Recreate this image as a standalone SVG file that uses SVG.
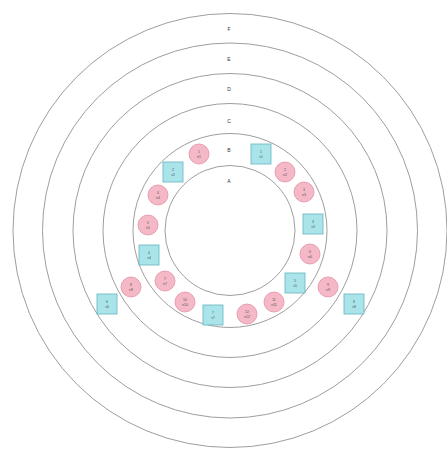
<svg xmlns="http://www.w3.org/2000/svg" width="447" height="449" viewBox="0 0 447 449">
<style>
.ring{fill:none;stroke:#9e9e9e;stroke-width:1}
.lab{font-family:"Liberation Sans",Arial,sans-serif;font-size:5px;fill:#333;text-anchor:middle}
.pc{fill:#f5b8c6;stroke:#e291a4;stroke-width:0.8}
.sq{fill:#a8e4ea;stroke:#66b3bd;stroke-width:0.8}
.nt{font-family:"Liberation Sans",Arial,sans-serif;font-size:3.5px;fill:#555;text-anchor:middle}
</style>
<rect width="447" height="449" fill="#fff"/>
<g id="rings">
<circle class="ring" cx="230" cy="230.5" r="217"/>
<circle class="ring" cx="230" cy="230.5" r="187.5"/>
<circle class="ring" cx="230" cy="230.5" r="157"/>
<circle class="ring" cx="230" cy="230.5" r="127"/>
<circle class="ring" cx="230" cy="230.5" r="97"/>
<circle class="ring" cx="230" cy="230.5" r="65"/>
</g>
<g id="ring-labels">
<text class="lab" x="229" y="31">F</text>
<text class="lab" x="229" y="61">E</text>
<text class="lab" x="229" y="91">D</text>
<text class="lab" x="229" y="123">C</text>
<text class="lab" x="229" y="152">B</text>
<text class="lab" x="229" y="183">A</text>
</g>
<g id="connectors"></g>
<g id="p1"><circle class="pc" cx="199" cy="154" r="10"/><text class="nt" x="199" y="153">1</text><text class="nt" x="199" y="158">n1</text></g>
<g id="p2"><circle class="pc" cx="285" cy="172" r="10"/><text class="nt" x="285" y="171">2</text><text class="nt" x="285" y="176">n2</text></g>
<g id="p3"><circle class="pc" cx="304" cy="192" r="10"/><text class="nt" x="304" y="191">3</text><text class="nt" x="304" y="196">n3</text></g>
<g id="p4"><circle class="pc" cx="158" cy="195" r="10"/><text class="nt" x="158" y="194">4</text><text class="nt" x="158" y="199">n4</text></g>
<g id="p5"><circle class="pc" cx="148" cy="225" r="10"/><text class="nt" x="148" y="224">5</text><text class="nt" x="148" y="229">n5</text></g>
<g id="p6"><circle class="pc" cx="310" cy="254" r="10"/><text class="nt" x="310" y="253">6</text><text class="nt" x="310" y="258">n6</text></g>
<g id="p7"><circle class="pc" cx="165" cy="281" r="10"/><text class="nt" x="165" y="280">7</text><text class="nt" x="165" y="285">n7</text></g>
<g id="p8"><circle class="pc" cx="131" cy="287" r="10"/><text class="nt" x="131" y="286">8</text><text class="nt" x="131" y="291">n8</text></g>
<g id="p9"><circle class="pc" cx="328" cy="287" r="10"/><text class="nt" x="328" y="286">9</text><text class="nt" x="328" y="291">n9</text></g>
<g id="p10"><circle class="pc" cx="185" cy="302" r="10"/><text class="nt" x="185" y="301">10</text><text class="nt" x="185" y="306">n10</text></g>
<g id="p11"><circle class="pc" cx="274" cy="302" r="10"/><text class="nt" x="274" y="301">11</text><text class="nt" x="274" y="306">n11</text></g>
<g id="p12"><circle class="pc" cx="247" cy="314" r="10"/><text class="nt" x="247" y="313">12</text><text class="nt" x="247" y="318">n12</text></g>
<g id="s1"><rect class="sq" x="251" y="144" width="20" height="20"/><text class="nt" x="261" y="153">1</text><text class="nt" x="261" y="158">s1</text></g>
<g id="s2"><rect class="sq" x="163" y="162" width="20" height="20"/><text class="nt" x="173" y="171">2</text><text class="nt" x="173" y="176">s2</text></g>
<g id="s3"><rect class="sq" x="303" y="214" width="20" height="20"/><text class="nt" x="313" y="223">3</text><text class="nt" x="313" y="228">s3</text></g>
<g id="s4"><rect class="sq" x="139" y="245" width="20" height="20"/><text class="nt" x="149" y="254">4</text><text class="nt" x="149" y="259">s4</text></g>
<g id="s5"><rect class="sq" x="285" y="273" width="20" height="20"/><text class="nt" x="295" y="282">5</text><text class="nt" x="295" y="287">s5</text></g>
<g id="s6"><rect class="sq" x="97" y="294" width="20" height="20"/><text class="nt" x="107" y="303">6</text><text class="nt" x="107" y="308">s6</text></g>
<g id="s7"><rect class="sq" x="203" y="305" width="20" height="20"/><text class="nt" x="213" y="314">7</text><text class="nt" x="213" y="319">s7</text></g>
<g id="s8"><rect class="sq" x="344" y="294" width="20" height="20"/><text class="nt" x="354" y="303">8</text><text class="nt" x="354" y="308">s8</text></g>
</svg>
